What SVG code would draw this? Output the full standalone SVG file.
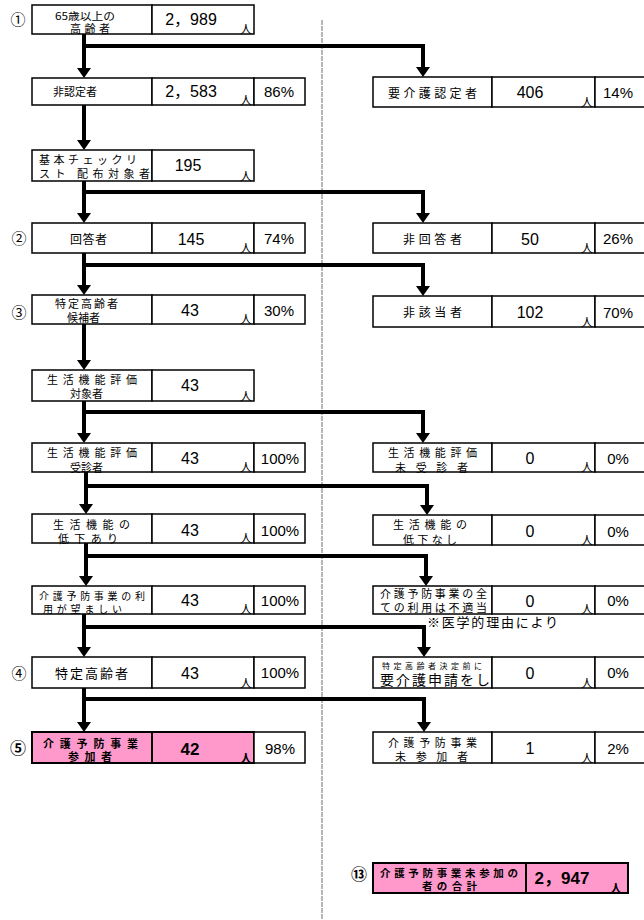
<svg xmlns="http://www.w3.org/2000/svg" width="644" height="920" viewBox="0 0 644 920">
<style>
text{font-family:"Noto Sans CJK JP","Liberation Sans",sans-serif;fill:#000}
.c{fill:#fff;stroke:#000;stroke-width:1.5}
.p{fill:#ff99cc;stroke:#000;stroke-width:2}
.lb{font-size:12px}
.l2{font-size:11px}
.n{font-family:"Liberation Sans","Noto Sans CJK JP",sans-serif;font-size:16px;text-anchor:middle}
.pc{font-family:"Liberation Sans",sans-serif;font-size:15px;text-anchor:middle}
.u{font-size:12px;text-anchor:middle}
.m{text-anchor:middle}
.cn{font-size:15px;text-anchor:middle}
.b{font-weight:bold}
.con{fill:none;stroke:#000;stroke-width:4}
</style>
<defs>
<marker id="ah" markerUnits="userSpaceOnUse" markerWidth="14" markerHeight="14" viewBox="0 0 10 14" refX="0" refY="7" orient="auto">
<path d="M0,0 L10,7 L0,14 z" fill="#000"/>
</marker>
</defs>

<line x1="322" y1="20" x2="322" y2="920" stroke="#888" stroke-width="1.2" stroke-dasharray="5 1"/>

<g id="connectors">
<path class="con" d="M84,34 V68" marker-end="url(#ah)"/>
<path class="con" d="M84,46 H423 V67" marker-end="url(#ah)"/>
<path class="con" d="M84,105 V140" marker-end="url(#ah)"/>
<path class="con" d="M84,181 V213" marker-end="url(#ah)"/>
<path class="con" d="M84,192 H423 V213" marker-end="url(#ah)"/>
<path class="con" d="M84,253 V285" marker-end="url(#ah)"/>
<path class="con" d="M84,265 H423 V286" marker-end="url(#ah)"/>
<path class="con" d="M84,324 V360" marker-end="url(#ah)"/>
<path class="con" d="M84,401 V433" marker-end="url(#ah)"/>
<path class="con" d="M84,412 H423 V433" marker-end="url(#ah)"/>
<path class="con" d="M86,472 V504" marker-end="url(#ah)"/>
<path class="con" d="M86,486 H427 V505" marker-end="url(#ah)"/>
<path class="con" d="M86,543 V576" marker-end="url(#ah)"/>
<path class="con" d="M86,556 H426 V576" marker-end="url(#ah)"/>
<path class="con" d="M84,614 V647" marker-end="url(#ah)"/>
<path class="con" d="M84,627 H424 V647" marker-end="url(#ah)"/>
<path class="con" d="M84,688 V722" marker-end="url(#ah)"/>
<path class="con" d="M84,699 H424 V722" marker-end="url(#ah)"/>
</g>

<g id="n1">
<text class="cn" x="18" y="25">①</text>
<rect class="c" x="32" y="5" width="120" height="29"/><rect class="c" x="152" y="5" width="102" height="29"/>
<text x="55" y="20" textLength="60" lengthAdjust="spacingAndGlyphs" style="font-size:10.5px">65歳以上の</text>
<text class="l2" x="70" y="33" textLength="40">高齢者</text>
<text class="n" x="191" y="25">2，989</text><text class="u" x="246" y="34">人</text>
</g>

<g id="n2">
<rect class="c" x="32" y="78" width="120" height="27"/><rect class="c" x="152" y="78" width="102" height="27"/><rect class="c" x="254" y="78" width="51" height="27"/>
<text class="m" x="75" y="96" style="font-size:11px">非認定者</text>
<text class="n" x="191" y="97">2，583</text><text class="u" x="246" y="105">人</text>
<text class="pc" x="279" y="97">86%</text>
</g>

<g id="n2r">
<rect class="c" x="373" y="77" width="119" height="30"/><rect class="c" x="492" y="77" width="103" height="30"/><rect class="c" x="595" y="77" width="51" height="30"/>
<text class="lb" x="388" y="98" textLength="89">要介護認定者</text>
<text class="n" x="530" y="98">406</text><text class="u" x="587" y="107">人</text>
<text class="pc" x="618" y="98">14%</text>
</g>

<g id="n3">
<rect class="c" x="32" y="150" width="120" height="31"/><rect class="c" x="152" y="150" width="102" height="31"/>
<text class="l2" x="39" y="164" textLength="98">基本チェックリ</text>
<text class="l2" x="39" y="178" textLength="111">スト 配布対象者</text>
<text class="n" x="188" y="171">195</text><text class="u" x="246" y="181">人</text>
</g>

<g id="n4">
<text class="cn" x="19" y="244">②</text>
<rect class="c" x="32" y="223" width="120" height="30"/><rect class="c" x="152" y="223" width="102" height="30"/><rect class="c" x="254" y="223" width="51" height="30"/>
<text class="lb" x="70" y="244" textLength="37">回答者</text>
<text class="n" x="191" y="245">145</text><text class="u" x="246" y="253">人</text>
<text class="pc" x="279" y="244">74%</text>
</g>

<g id="n4r">
<rect class="c" x="373" y="223" width="119" height="30"/><rect class="c" x="492" y="223" width="103" height="30"/><rect class="c" x="595" y="223" width="51" height="30"/>
<text class="lb" x="403" y="244" textLength="59">非回答者</text>
<text class="n" x="530" y="245">50</text><text class="u" x="587" y="253">人</text>
<text class="pc" x="618" y="244">26%</text>
</g>

<g id="n5">
<text class="cn" x="19" y="318">③</text>
<rect class="c" x="32" y="295" width="120" height="29"/><rect class="c" x="152" y="295" width="102" height="29"/><rect class="c" x="254" y="295" width="51" height="29"/>
<text class="l2" x="55" y="308" textLength="63">特定高齢者</text>
<text class="l2" x="67" y="322" textLength="33">候補者</text>
<text class="n" x="190" y="316">43</text><text class="u" x="246" y="324">人</text>
<text class="pc" x="279" y="316">30%</text>
</g>

<g id="n5r">
<rect class="c" x="373" y="296" width="119" height="31"/><rect class="c" x="492" y="296" width="103" height="31"/><rect class="c" x="595" y="296" width="51" height="31"/>
<text class="lb" x="403" y="317" textLength="59">非該当者</text>
<text class="n" x="530" y="318">102</text><text class="u" x="587" y="327">人</text>
<text class="pc" x="618" y="318">70%</text>
</g>

<g id="n6">
<rect class="c" x="32" y="370" width="120" height="31"/><rect class="c" x="152" y="370" width="102" height="31"/>
<text class="l2" x="47" y="384" textLength="90">生活機能評価</text>
<text class="l2" x="70" y="398" textLength="33">対象者</text>
<text class="n" x="190" y="391">43</text><text class="u" x="246" y="401">人</text>
</g>

<g id="n7">
<rect class="c" x="32" y="443" width="120" height="29"/><rect class="c" x="152" y="443" width="102" height="29"/><rect class="c" x="254" y="443" width="51" height="29"/>
<text class="l2" x="47" y="457" textLength="90">生活機能評価</text>
<text class="l2" x="70" y="472" textLength="33">受診者</text>
<text class="n" x="190" y="464">43</text><text class="u" x="246" y="472">人</text>
<text class="pc" x="280" y="464">100%</text>
</g>

<g id="n7r">
<rect class="c" x="373" y="443" width="119" height="29"/><rect class="c" x="492" y="443" width="103" height="29"/><rect class="c" x="595" y="443" width="51" height="29"/>
<text class="l2" x="388" y="457" textLength="89">生活機能評価</text>
<text class="l2" x="395" y="472" textLength="73">未受診者</text>
<text class="n" x="530" y="464">0</text><text class="u" x="587" y="472">人</text>
<text class="pc" x="618" y="464">0%</text>
</g>

<g id="n8">
<rect class="c" x="32" y="514" width="120" height="29"/><rect class="c" x="152" y="514" width="102" height="29"/><rect class="c" x="254" y="514" width="51" height="29"/>
<text class="l2" x="53" y="529" textLength="77">生活機能の</text>
<text class="l2" x="58" y="543" textLength="60">低下あり</text>
<text class="n" x="190" y="536">43</text><text class="u" x="246" y="543">人</text>
<text class="pc" x="280" y="536">100%</text>
</g>

<g id="n8r">
<rect class="c" x="373" y="515" width="119" height="30"/><rect class="c" x="492" y="515" width="103" height="30"/><rect class="c" x="595" y="515" width="51" height="30"/>
<text class="l2" x="393" y="529" textLength="74">生活機能の</text>
<text class="l2" x="403" y="544" textLength="54">低下なし</text>
<text class="n" x="530" y="537">0</text><text class="u" x="587" y="545">人</text>
<text class="pc" x="618" y="537">0%</text>
</g>

<g id="n9">
<rect class="c" x="32" y="586" width="120" height="28"/><rect class="c" x="152" y="586" width="102" height="28"/><rect class="c" x="254" y="586" width="51" height="28"/>
<text x="39" y="600" textLength="106" style="font-size:10px">介護予防事業の利</text>
<text x="43" y="613" textLength="79" style="font-size:10px">用が望ましい</text>
<text class="n" x="190" y="606">43</text><text class="u" x="246" y="614">人</text>
<text class="pc" x="280" y="606">100%</text>
</g>

<g id="n9r">
<rect class="c" x="373" y="586" width="119" height="28"/><rect class="c" x="492" y="586" width="103" height="28"/><rect class="c" x="595" y="586" width="51" height="28"/>
<text class="l2" x="380" y="598" textLength="107">介護予防事業の全</text>
<text class="l2" x="380" y="612" textLength="107">ての利用は不適当</text>
<text class="n" x="530" y="607">0</text><text class="u" x="587" y="614">人</text>
<text class="pc" x="618" y="606">0%</text>
<text x="427" y="627" textLength="131" style="font-size:13px">※医学的理由により</text>
</g>

<g id="n10">
<text class="cn" x="19" y="679">④</text>
<rect class="c" x="32" y="657" width="120" height="31"/><rect class="c" x="152" y="657" width="102" height="31"/><rect class="c" x="254" y="657" width="51" height="31"/>
<text x="55" y="678" textLength="73" style="font-size:13px">特定高齢者</text>
<text class="n" x="190" y="679">43</text><text class="u" x="246" y="688">人</text>
<text class="pc" x="280" y="678">100%</text>
</g>

<g id="n10r">
<rect class="c" x="373" y="657" width="119" height="31"/><rect class="c" x="492" y="657" width="103" height="31"/><rect class="c" x="595" y="657" width="51" height="31"/>
<text x="382" y="669" textLength="100" style="font-size:8px">特定高齢者決定前に</text>
<text x="380" y="685" textLength="110" style="font-size:14px">要介護申請をし</text>
<text class="n" x="530" y="679">0</text><text class="u" x="587" y="688">人</text>
<text class="pc" x="618" y="678">0%</text>
</g>

<g id="n11">
<text class="cn b" x="18" y="754" style="font-size:16px">⑤</text>
<rect class="p" x="32" y="732" width="120" height="31"/><rect class="p" x="152" y="732" width="102" height="31"/><rect class="c" x="254" y="732" width="51" height="31"/>
<text class="b" x="43" y="748" textLength="95" style="font-size:11px">介護予防事業</text>
<text class="b" x="68" y="761" textLength="44" style="font-size:11px">参加者</text>
<text class="n b" x="190" y="755" style="font-size:17px">42</text><text class="u b" x="246" y="763">人</text>
<text class="pc" x="280" y="754">98%</text>
</g>

<g id="n11r">
<rect class="c" x="373" y="732" width="119" height="31"/><rect class="c" x="492" y="732" width="103" height="31"/><rect class="c" x="595" y="732" width="51" height="31"/>
<text class="l2" x="388" y="747" textLength="89">介護予防事業</text>
<text class="l2" x="395" y="761" textLength="73">未参加者</text>
<text class="n" x="530" y="754">1</text><text class="u" x="587" y="763">人</text>
<text class="pc" x="618" y="754">2%</text>
</g>

<g id="n13">
<text class="cn b" x="359" y="880" style="font-size:16px">⑬</text>
<rect class="p" x="373" y="863" width="153" height="30"/><rect class="p" x="526" y="863" width="102" height="30"/>
<text class="b" x="380" y="877" textLength="138" style="font-size:10.5px">介護予防事業未参加の</text>
<text class="b" x="422" y="890" textLength="55" style="font-size:10.5px">者の合計</text>
<text class="n b" x="562" y="884" style="font-size:17px">2，947</text><text class="u b" x="616" y="893">人</text>
</g>
</svg>
